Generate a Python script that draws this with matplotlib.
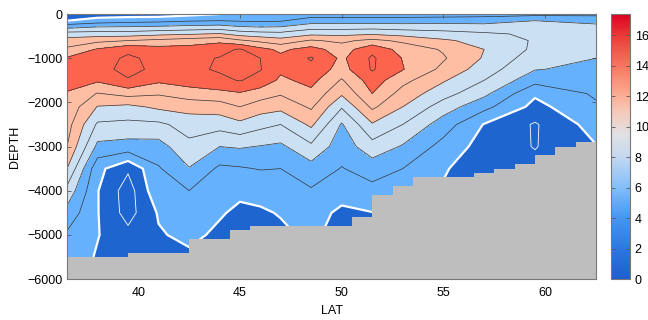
import numpy as np
import matplotlib.pyplot as plt
from matplotlib.colors import LinearSegmentedColormap, Normalize
from matplotlib.cm import ScalarMappable

plt.rcParams['font.family'] = ['Liberation Sans', 'DejaVu Sans']
plt.rcParams['font.size'] = 9

# section grid
lat = [36.5, 38, 39.5, 41, 42.5, 44, 45, 46, 47, 48.5, 50, 51.5, 53, 55, 57, 59.5, 62.5]
depth = [0, 150, 300, 450, 600, 800, 1000, 1250, 1500, 1800, 2100, 2500, 3000, 3500, 4000, 4500, 5000, 5500, 6000]

# one profile per latitude, top to bottom
temp = [
    [2.0, 3.0, 6.5, 10.0, 11.8, 13.4, 15.2, 16.3, 16.0, 14.8, 14.4, 13.8, 13.0, 11.0, 8.4, 6.3, 4.7, 4.3, 4.3],
    [2.0, 3.8, 7.2, 10.0, 12.5, 15.2, 16.2, 16.6, 15.3, 12.9, 10.9, 8.7, 6.5, 3.6, 3.1, 3.1, 3.1, 2.8, 2.8],
    [2.0, 4.2, 7.3, 10.0, 13.0, 16.6, 17.3, 17.35, 16.9, 13.7, 10.5, 8.5, 6.2, 1.3, 0.0, 0.2, 1.6, 2.0, 2.0],
    [2.0, 4.4, 7.5, 10.5, 13.5, 15.8, 16.5, 16.7, 15.4, 13.2, 11.4, 8.6, 6.2, 4.8, 4.6, 3.2, 2.8, 2.4, 2.4],
    [2.5, 4.8, 7.8, 10.8, 14.0, 15.8, 16.5, 16.6, 16.0, 14.0, 11.8, 9.8, 8.5, 6.9, 5.0, 4.0, 3.5, 2.6, 2.6],
    [3.0, 5.0, 8.0, 11.2, 14.5, 16.4, 17.1, 17.2, 16.6, 14.4, 12.0, 9.8, 7.0, 4.6, 3.8, 3.2, 2.6, 2.6, 2.6],
    [3.5, 4.8, 7.3, 10.2, 13.3, 17.2, 17.35, 17.35, 17.1, 14.8, 13.0, 10.5, 7.2, 4.8, 3.4, 2.6, 2.5, 2.5, 2.5],
    [3.7, 4.7, 7.1, 9.8, 12.5, 15.6, 17.0, 17.1, 16.3, 14.0, 12.0, 9.6, 6.9, 5.1, 3.5, 2.8, 2.5, 2.5, 2.5],
    [3.8, 4.8, 7.2, 9.6, 11.8, 14.6, 15.5, 15.4, 14.6, 13.2, 11.6, 9.0, 6.6, 5.0, 4.3, 3.1, 2.7, 2.7, 2.7],
    [4.0, 6.0, 8.3, 10.6, 13.2, 15.8, 17.2, 16.4, 15.6, 14.5, 13.3, 11.4, 8.6, 6.2, 4.8, 3.8, 3.3, 3.3, 3.3],
    [4.0, 6.0, 8.3, 10.5, 12.6, 14.0, 14.6, 14.2, 12.8, 11.3, 9.2, 6.8, 5.9, 4.9, 3.8, 2.6, 2.4, 2.4, 2.4],
    [4.0, 6.0, 8.4, 10.8, 13.5, 16.5, 17.3, 17.2, 16.0, 15.0, 13.4, 10.8, 8.2, 5.9, 4.4, 2.95, 2.8, 2.8, 2.8],
    [4.0, 6.0, 8.2, 10.3, 12.6, 14.2, 14.9, 15.1, 13.6, 12.2, 11.0, 9.0, 6.8, 5.0, 4.3, 4.3, 4.3, 4.3, 4.3],
    [4.0, 6.2, 8.1, 9.8, 11.3, 12.8, 13.2, 12.5, 11.2, 9.8, 8.0, 6.0, 4.3, 3.1, 2.9, 2.9, 2.9, 2.9, 2.9],
    [4.2, 6.2, 7.9, 9.3, 10.3, 11.0, 10.8, 10.0, 9.0, 7.5, 5.6, 2.9, 2.2, 2.4, 2.4, 2.4, 2.4, 2.4, 2.4],
    [4.4, 7.0, 8.3, 8.7, 8.8, 8.6, 7.9, 7.1, 5.7, 3.3, 2.4, 0.8, 0.9, 1.6, 1.6, 1.6, 1.6, 1.6, 1.6],
    [4.5, 6.4, 7.6, 8.2, 8.4, 8.0, 7.0, 6.5, 5.9, 5.3, 4.7, 3.9, 2.9, 2.8, 2.8, 2.8, 2.8, 2.8, 2.8],
]

# sea floor, one value per 1-degree cell
bottom_lat = [37, 38, 39, 40, 41, 42, 43, 44, 45, 46, 47, 48, 49, 50,
              51, 52, 53, 54, 55, 56, 57, 58, 59, 60, 61, 62]
bottom_depth = [5500, 5500, 5500, 5400, 5400, 5400, 5100, 5100, 4900, 4800, 4800, 4800, 4800, 4800,
                4600, 4100, 3900, 3700, 3700, 3700, 3600, 3500, 3400, 3200, 3000, 2900]

fill_levels = [-5, 3, 7, 11, 15, 25]
fill_colors = ['#1f65cf', '#66b1fe', '#cce0f3', '#fdbea4', '#fc644e']
line_levels = [5, 7, 9, 11, 13, 15, 17]

cb_nodes = [0, 2, 4, 6, 8, 9.5, 11, 12, 14, 16, 17.4]
cb_colors = ['#1e5fcd', '#2d78e1', '#4696f0', '#82befa', '#c3d7f0', '#e1e1e4',
             '#f5c8b9', '#faaf96', '#f5785f', '#eb3c37', '#dc0023']

fig = plt.figure(figsize=(6.48, 3.2), dpi=100)
ax = fig.add_axes([0.1034, 0.128, 0.8164, 0.828])
cax = fig.add_axes([0.943, 0.128, 0.029, 0.828])

X, Y = np.meshgrid(lat, -np.array(depth))
Z = np.array(temp).T

ax.contourf(X, Y, Z, levels=fill_levels, colors=fill_colors)
ax.contour(X, Y, Z, levels=line_levels, colors='#333333', linewidths=0.5)
ax.contour(X, Y, Z, levels=[1], colors='white', linewidths=0.6)
ax.contour(X, Y, Z, levels=[3], colors='white', linewidths=1.6)

edges = np.append(np.array(bottom_lat) - 0.5, bottom_lat[-1] + 0.5)
ax.stairs(-np.array(bottom_depth), edges, baseline=-6000, fill=True,
          color='#bebebe', zorder=3)

ax.set_xlim(36.5, 62.5)
ax.set_ylim(-6000, 0)
ax.set_xticks([40, 45, 50, 55, 60])
ax.set_yticks(range(-6000, 1, 1000))
ax.tick_params(direction='in', top=True, right=True, length=3, width=0.6,
               color='#555555', labelsize=9)
ax.tick_params(axis='x', pad=6)
for s in ax.spines.values():
    s.set_color('#777777')
    s.set_linewidth(0.8)
    s.set_zorder(5)
ax.set_xlabel('LAT', fontsize=9, labelpad=4)
ax.set_ylabel('DEPTH', fontsize=9, labelpad=4)

cmap = LinearSegmentedColormap.from_list(
    'bwr_cb', [(n / cb_nodes[-1], c) for n, c in zip(cb_nodes, cb_colors)])
cb = fig.colorbar(ScalarMappable(norm=Normalize(0, cb_nodes[-1]), cmap=cmap), cax=cax)
cb.set_ticks(range(0, 17, 2))
cb.ax.tick_params(direction='in', length=3, width=0.6, color='#555555', labelsize=9,
                  left=True)
cb.outline.set_edgecolor('#777777')
cb.outline.set_linewidth(0.8)

fig.savefig('out.png', dpi=100)
